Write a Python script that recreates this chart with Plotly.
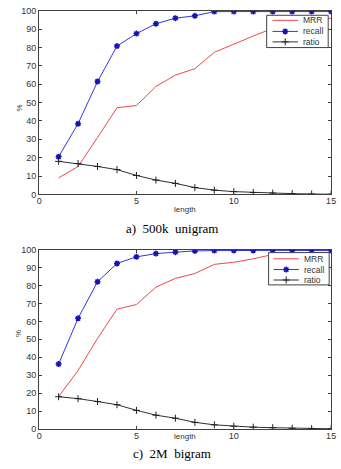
import plotly.graph_objects as go

length = list(range(1, 16))

# a) 500k unigram
mrr_a = [9, 15.2, 31, 47.2, 48.4, 58.8, 65, 68.5, 77.4, 82, 86.3, 90.5, 93.5, 95, 96]
recall_a = [20.5, 38.5, 61.5, 80.8, 87.6, 93, 96, 97.3, 99.6, 99.6, 99.6, 99.6, 99.6, 99.6, 99.6]
ratio_a = [18, 16.8, 15.2, 13.5, 10.3, 7.8, 6, 3.7, 2.3, 1.5, 1.0, 0.7, 0.4, 0.2, 0.1]

# c) 2M bigram
mrr_c = [18, 32.6, 50.5, 66.8, 69.4, 79.1, 84, 86.7, 91.8, 93, 94.9, 97.3, 98, 98.4, 98.5]
recall_c = [36.2, 61.7, 82.1, 92.3, 96, 97.8, 98.6, 99.3, 99.5, 99.6, 99.6, 99.8, 99.6, 99.5, 99.5]
ratio_c = [18, 16.9, 15.3, 13.5, 10.4, 7.7, 6, 3.7, 2.3, 1.5, 1.0, 0.7, 0.4, 0.2, 0.1]

captions = ["a)  500k  unigram", "c)  2M  bigram"]
series_names = ["MRR", "recall", "ratio"]

W, H = 341, 469
xdom = [37 / W, 336 / W]
ydoms = [[1 - 193.5 / H, 1 - 6 / H], [1 - 433.2 / H, 1 - 250 / H]]

C_MRR = "#f04848"
C_REC = "#3434e8"
C_REC_M = "#1414b4"
C_RAT = "#303030"
TXT = "#333333"

def styles(k):
    if k == 0:
        return dict(mode="lines", line=dict(color=C_MRR, width=1))
    if k == 1:
        return dict(mode="lines+markers", line=dict(color=C_REC, width=1),
                    marker=dict(symbol="asterisk-open", size=5, color=C_REC_M,
                                line=dict(color=C_REC_M, width=1.5)))
    return dict(mode="lines+markers", line=dict(color=C_RAT, width=1),
                marker=dict(symbol="cross-thin-open", size=5, color="#202020",
                            line=dict(color="#202020", width=1)))

fig = go.Figure()

datasets = [(mrr_a, recall_a, ratio_a), (mrr_c, recall_c, ratio_c)]
for i, ds in enumerate(datasets):
    xa = "x" if i == 0 else "x2"
    ya = "y" if i == 0 else "y2"
    for k, vals in enumerate(ds):
        fig.add_trace(go.Scatter(x=length, y=vals, name=series_names[k], showlegend=False,
                                 xaxis=xa, yaxis=ya, hoverinfo="skip", **styles(k)))

axis_common = dict(showline=True, linecolor="#404040", linewidth=1, mirror="ticks",
                   ticks="inside", ticklen=3, tickcolor="#404040", showgrid=False,
                   zeroline=False, ticklabeloverflow="allow",
                   tickfont=dict(family="Arial", size=9, color=TXT))

# custom legend boxes (pixel layout, drawn on a full-page overlay axis)
legend_boxes = [
    dict(x0=270, x1=333, y0=10.5, y1=43.5, rows=[15.7, 27, 37.7], lx0=276, lx1=302, tx=305),
    dict(x0=272, x1=334, y0=253, y1=286, rows=[259.3, 270.3, 281], lx0=277, lx1=303, tx=306),
]
anns = []
for b in legend_boxes:
    fig.add_trace(go.Scatter(x=[b["x0"], b["x1"], b["x1"], b["x0"], b["x0"]],
                             y=[b["y0"], b["y0"], b["y1"], b["y1"], b["y0"]],
                             mode="lines", fill="toself", fillcolor="white",
                             line=dict(color="#404040", width=1),
                             xaxis="x3", yaxis="y3", showlegend=False, hoverinfo="skip"))
    for k, ry in enumerate(b["rows"]):
        st = styles(k)
        mid = (b["lx0"] + b["lx1"]) / 2
        fig.add_trace(go.Scatter(x=[b["lx0"], b["lx1"]], y=[ry, ry], mode="lines", line=st["line"],
                                 xaxis="x3", yaxis="y3", showlegend=False, hoverinfo="skip"))
        if "marker" in st:
            fig.add_trace(go.Scatter(x=[mid], y=[ry], mode="markers", marker=st["marker"],
                                     xaxis="x3", yaxis="y3", showlegend=False, hoverinfo="skip"))
        anns.append(dict(text=series_names[k], x=b["tx"], y=ry, xref="x3", yref="y3", xanchor="left",
                         yanchor="middle", showarrow=False, font=dict(family="Arial", size=8.5, color=TXT)))

fig.update_layout(
    width=W, height=H, margin=dict(l=0, r=0, t=0, b=0),
    paper_bgcolor="white", plot_bgcolor="rgba(0,0,0,0)", showlegend=False,
    xaxis=dict(domain=xdom, range=[0, 15], tickvals=[0, 5, 10, 15], anchor="y",
               ticklabelstandoff=-2, **axis_common),
    yaxis=dict(domain=ydoms[0], range=[0, 100], tickvals=list(range(0, 101, 10)), anchor="x", **axis_common),
    xaxis2=dict(domain=xdom, range=[0, 15], tickvals=[0, 5, 10, 15], anchor="y2",
                ticklabelstandoff=-2, **axis_common),
    yaxis2=dict(domain=ydoms[1], range=[0, 100], tickvals=list(range(0, 101, 10)), anchor="x2", **axis_common),
    xaxis3=dict(domain=[0, 1], range=[0, W], visible=False, anchor="y3", fixedrange=True),
    yaxis3=dict(domain=[0, 1], range=[H, 0], visible=False, anchor="x3", fixedrange=True),
)

for i in range(2):
    top_px = [6, 250][i]
    bot_px = [193.5, 433.2][i]
    anns.append(dict(text="length", x=186 / W, y=1 - ([209, 448][i]) / H, xref="paper", yref="paper",
                     showarrow=False, font=dict(family="Arial", size=8, color=TXT)))
    anns.append(dict(text="%", x=10 / W, y=1 - ((top_px + bot_px) / 2) / H, xref="paper", yref="paper",
                     showarrow=False, textangle=-90, font=dict(family="Arial", size=8, color=TXT)))
    anns.append(dict(text=captions[i], x=173 / W, y=1 - ([228, 468][i]) / H, xref="paper", yref="paper",
                     showarrow=False, font=dict(family="Liberation Serif", size=13, color="black")))
fig.update_layout(annotations=anns)

fig.write_html("out.html")
